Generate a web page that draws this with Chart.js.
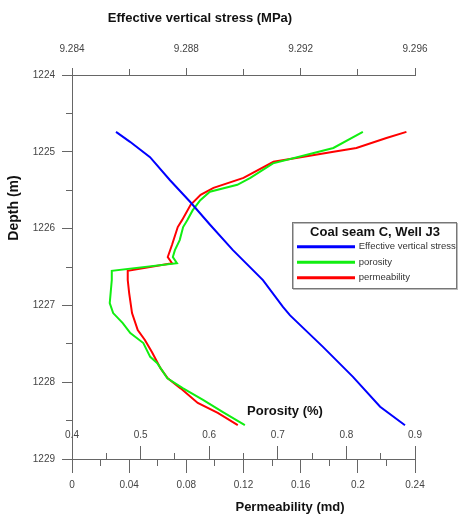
<!DOCTYPE html>
<html>
<head>
<meta charset="utf-8">
<title>Coal seam C, Well J3</title>
<script src="https://cdn.jsdelivr.net/npm/chart.js@4.4.1/dist/chart.umd.min.js"></script>
<style>
  body { margin: 0; background: #fff; }
  canvas { display: block; }
</style>
</head>
<body>
<canvas id="wellLog" width="458" height="518"></canvas>
<script>
// effective vertical stress (MPa) against depth (m)
const stressDepth = [1224.74, 1224.87, 1225.07, 1225.37, 1225.65, 1225.95, 1226.28, 1226.67, 1227.02, 1227.13, 1227.54, 1227.93, 1228.32, 1228.56];
const stressValues = [9.28554, 9.28603, 9.28673, 9.28743, 9.28813, 9.28883, 9.28963, 9.29068, 9.29138, 9.29163, 9.29278, 9.29383, 9.29478, 9.29565];

// porosity (%) against depth (m)
const porosityDepth = [1224.74, 1224.95, 1225.02, 1225.15, 1225.34, 1225.43, 1225.52, 1225.63, 1225.76, 1225.89, 1225.98, 1226.15, 1226.28, 1226.37, 1226.45, 1226.55, 1226.67, 1226.97, 1227.10, 1227.23, 1227.36, 1227.49, 1227.67, 1227.75, 1227.95, 1228.08, 1228.23, 1228.39, 1228.56];
const porosityValues = [0.824, 0.781, 0.751, 0.693, 0.660, 0.641, 0.601, 0.587, 0.576, 0.568, 0.562, 0.557, 0.550, 0.547, 0.553, 0.458, 0.458, 0.455, 0.460, 0.474, 0.485, 0.504, 0.514, 0.524, 0.539, 0.562, 0.591, 0.620, 0.652];

// permeability (md) against depth (m)
const permDepth = [1224.74, 1224.82, 1224.95, 1225.00, 1225.07, 1225.13, 1225.34, 1225.47, 1225.56, 1225.69, 1225.89, 1225.98, 1226.21, 1226.37, 1226.45, 1226.55, 1226.67, 1226.84, 1227.10, 1227.32, 1227.45, 1227.61, 1227.82, 1227.95, 1228.08, 1228.27, 1228.40, 1228.56];
const permValues = [0.234, 0.220, 0.199, 0.183, 0.160, 0.141, 0.120, 0.099, 0.090, 0.083, 0.077, 0.074, 0.070, 0.067, 0.070, 0.039, 0.039, 0.040, 0.042, 0.046, 0.051, 0.056, 0.062, 0.067, 0.076, 0.088, 0.102, 0.116];

// tick labels
const depthTicks = [1224, 1225, 1226, 1227, 1228, 1229];
const stressTicks = [9.284, 9.288, 9.292, 9.296];
const porosityTicks = [0.4, 0.5, 0.6, 0.7, 0.8, 0.9];
const permTicks = [0, 0.04, 0.08, 0.12, 0.16, 0.2, 0.24];

const fontFamily = "'Liberation Sans', Arial, sans-serif";
const axisColor = '#666';
Chart.defaults.font.family = fontFamily;
Chart.defaults.color = '#444';

const toPoints = (xs, ys) => ys.map((d, i) => ({ x: xs[i], y: d }));
const fixTicks = list => scale => { scale.ticks = list.map(v => ({ value: v })); };
const tickFont = { size: 10 };

// axis titles sit off-centre in the original, so they are drawn here
const axisTitles = {
  id: 'axisTitles',
  afterDraw(chart) {
    const { ctx, chartArea: a } = chart;
    ctx.save();
    ctx.fillStyle = '#111';
    ctx.textAlign = 'center';
    ctx.textBaseline = 'middle';
    ctx.font = 'bold 13px ' + fontFamily;
    ctx.fillText('Effective vertical stress (MPa)', a.left + 128, a.top - 57);
    ctx.fillText('Porosity (%)', a.left + 213, a.bottom - 48);
    ctx.fillText('Permeability (md)', a.left + 218, a.bottom + 48);
    ctx.translate(a.left - 58, a.top + 133);
    ctx.rotate(-Math.PI / 2);
    ctx.font = 'bold 14px ' + fontFamily;
    ctx.fillText('Depth (m)', 0, 0);
    ctx.restore();
  }
};

// move the legend box over the right edge of the plot and frame it
const legendBox = {
  id: 'legendBox',
  afterLayout(chart) {
    const lg = chart.legend, a = chart.chartArea;
    lg.left = a.right - 123;
    lg.top = a.top + 147;
    lg.width = 166;
    lg.height = 70;
    lg.right = lg.left + lg.width;
    lg.bottom = lg.top + lg.height;
  },
  afterDraw(chart) {
    const { ctx } = chart, lg = chart.legend;
    ctx.save();
    ctx.strokeStyle = '#bbb';
    ctx.strokeRect(lg.left + 1.5, lg.top + 1.5, 164, 66);
    ctx.strokeStyle = '#777';
    ctx.strokeRect(lg.left + 0.5, lg.top + 0.5, 164, 66);
    ctx.restore();
  }
};

const ctx = document.getElementById('wellLog');
const myChart = new Chart(ctx, {
  type: 'line',
  data: {
    datasets: [{
      label: 'Effective vertical stress',
      data: toPoints(stressValues, stressDepth),
      xAxisID: 'xStress',
      yAxisID: 'y',
      borderColor: '#0000ff',
      backgroundColor: '#0000ff',
      borderWidth: 2
    }, {
      label: 'porosity',
      data: toPoints(porosityValues, porosityDepth),
      xAxisID: 'xPoro',
      yAxisID: 'y',
      borderColor: '#11ee11',
      backgroundColor: '#11ee11',
      borderWidth: 2
    }, {
      label: 'permeability',
      data: toPoints(permValues, permDepth),
      xAxisID: 'xPerm',
      yAxisID: 'y',
      borderColor: '#ff0000',
      backgroundColor: '#ff0000',
      borderWidth: 2
    }]
  },
  options: {
    responsive: false,
    animation: false,
    events: [],
    layout: { padding: { left: 0, top: 0, right: 43, bottom: 0 } },
    elements: { point: { radius: 0 }, line: { tension: 0 } },
    scales: {
      y: {
        type: 'linear', position: 'left', reverse: true, min: 1224, max: 1229, weight: 1,
        afterBuildTicks: fixTicks(depthTicks),
        ticks: { callback: v => String(v), padding: 7, font: tickFont, autoSkip: false },
        grid: { drawOnChartArea: false, color: axisColor, tickLength: 10 },
        border: { color: axisColor },
        afterFit: s => { s.width = 72; }
      },
      yMinor: {
        type: 'linear', axis: 'y', position: 'left', reverse: true, min: 1224, max: 1229, weight: 0,
        ticks: { display: false, stepSize: 0.5 },
        grid: { drawOnChartArea: false, color: axisColor, tickLength: 6 },
        border: { display: false },
        afterFit: s => { s.width = 0; }
      },
      xStress: {
        type: 'linear', axis: 'x', position: 'top', min: 9.284, max: 9.296, weight: 1,
        afterBuildTicks: fixTicks(stressTicks),
        ticks: { callback: v => v.toFixed(3), padding: 13, font: tickFont, autoSkip: false },
        grid: { drawOnChartArea: false, color: axisColor, tickLength: 7 },
        border: { color: axisColor },
        afterFit: s => { s.height = 75; }
      },
      xStressMinor: {
        type: 'linear', axis: 'x', position: 'top', min: 9.284, max: 9.296, weight: 0,
        ticks: { display: false, stepSize: 0.002 },
        grid: { drawOnChartArea: false, color: axisColor, tickLength: 6 },
        border: { display: false },
        afterFit: s => { s.height = 0; }
      },
      xPerm: {
        type: 'linear', axis: 'x', position: 'bottom', min: 0, max: 0.24, weight: 1,
        afterBuildTicks: fixTicks(permTicks),
        ticks: { callback: v => String(v), padding: 6, font: tickFont, autoSkip: false },
        grid: { drawOnChartArea: false, color: axisColor, tickLength: 14 },
        border: { color: axisColor },
        afterFit: s => { s.height = 59; }
      },
      xPermMinor: {
        type: 'linear', axis: 'x', position: 'bottom', min: 0, max: 0.24, weight: 0,
        ticks: { display: false, stepSize: 0.02 },
        grid: { drawOnChartArea: false, color: axisColor, tickLength: 7 },
        border: { display: false },
        afterFit: s => { s.height = 0; }
      },
      xPoro: {
        type: 'linear', axis: 'x', position: { y: 1228.83 }, min: 0.4, max: 0.9,
        afterBuildTicks: fixTicks(porosityTicks),
        ticks: { callback: v => String(v), padding: -30, font: tickFont, autoSkip: false },
        grid: { drawOnChartArea: false, color: axisColor, tickLength: 13 },
        border: { display: false }
      },
      xPoroMinor: {
        type: 'linear', axis: 'x', position: { y: 1228.92 }, min: 0.4, max: 0.9,
        ticks: { display: false, stepSize: 0.05 },
        grid: { drawOnChartArea: false, color: axisColor, tickLength: 6 },
        border: { display: false }
      }
    },
    plugins: {
      tooltip: { enabled: false },
      legend: {
        position: 'chartArea',
        align: 'start',
        title: {
          display: true,
          text: 'Coal seam C, Well J3',
          color: '#111',
          font: { size: 13, weight: 'bold', lineHeight: 1 },
          padding: { top: 4, bottom: -3 }
        },
        labels: { boxWidth: 56, boxHeight: 1, padding: 6, color: '#333', font: { size: 9.5 } }
      }
    }
  },
  plugins: [axisTitles, legendBox]
});
</script>
</body>
</html>
